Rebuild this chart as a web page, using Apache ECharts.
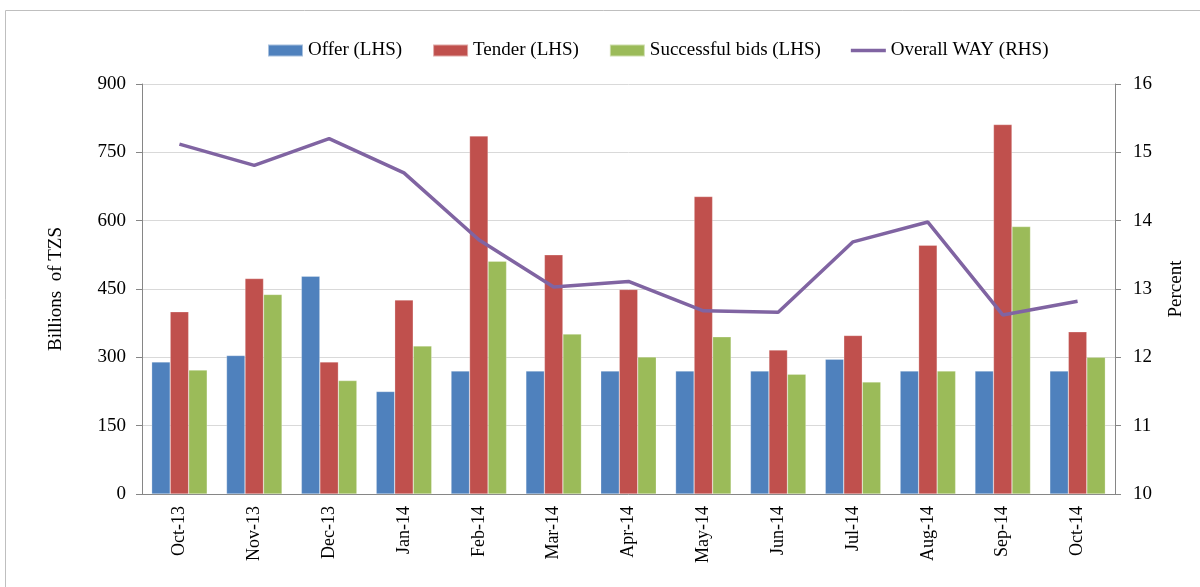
<!DOCTYPE html>
<html>
<head>
<meta charset="utf-8">
<script src="https://cdn.jsdelivr.net/npm/echarts@6/dist/echarts.min.js"></script>
<style>
  html, body { margin: 0; padding: 0; background: #fff; }
  #grafico { width: 1200px; height: 587px; }
</style>
</head>
<body>
<div id="grafico"></div>
<script>
// values
const meses = ["Oct-13", "Nov-13", "Dec-13", "Jan-14", "Feb-14", "Mar-14", "Apr-14", "May-14", "Jun-14", "Jul-14", "Aug-14", "Sep-14", "Oct-14"]
const offer = [290, 304, 478, 225, 270, 270, 270, 270, 270, 296, 270, 270, 270]
const tender = [400, 473, 290, 426, 786, 525, 449, 653, 316, 348, 546, 811, 356]
const successful = [272, 438, 249, 325, 511, 351, 301, 345, 263, 246, 270, 587, 300]
const way = [15.12, 14.81, 15.20, 14.70, 13.72, 13.03, 13.11, 12.68, 12.66, 13.69, 13.98, 12.62, 12.82]
const ticksEsq = [0, 150, 300, 450, 600, 750, 900]
const ticksDir = [10, 11, 12, 13, 14, 15, 16]

const fonte = "Liberation Serif"

let myChart = echarts.init(document.getElementById("grafico"))

let barra = (nome, dados, cor) => ({
  name: nome,
  type: "bar",
  data: dados,
  barWidth: 18.5,
  barGap: "0%",
  itemStyle: { color: cor, borderColor: "rgba(255,255,255,0.5)", borderWidth: 0.5 },
})

let option = {
  animation: false,
  textStyle: { fontFamily: fonte, color: "#000" },
  graphic: [
    {
      type: "rect",
      shape: { x: 5.5, y: 10.5, width: 1300, height: 700 },
      style: { fill: "none", stroke: "#bfbfbf", lineWidth: 1 },
      silent: true,
    },
  ],
  legend: {
    top: 36,
    left: 262,
    itemWidth: 35,
    itemHeight: 12,
    itemGap: 30,
    textStyle: { fontFamily: fonte, fontSize: 19, color: "#000" },
    data: [
      { name: "Offer (LHS)", icon: "rect" },
      { name: "Tender (LHS)", icon: "rect" },
      { name: "Successful bids (LHS)", icon: "rect" },
      { name: "Overall WAY (RHS)", icon: "path://M0,0 L40,0 L40,4 L0,4 Z", itemStyle: { color: "#8064A2" } },
    ],
  },
  grid: { left: 142, right: 85, top: 84, bottom: 93 },
  xAxis: {
    type: "category",
    data: meses,
    axisLine: { lineStyle: { color: "#868686" } },
    axisTick: { length: 6, lineStyle: { color: "#868686" } },
    axisLabel: {
      rotate: 90,
      interval: 0,
      margin: 12,
      fontFamily: fonte,
      fontSize: 18,
      color: "#000",
    },
  },
  yAxis: [
    {
      type: "value",
      min: ticksEsq[0],
      max: ticksEsq[ticksEsq.length - 1],
      interval: 150,
      name: "Billions  of TZS",
      nameLocation: "middle",
      nameRotate: 90,
      nameGap: 76,
      nameTextStyle: { fontFamily: fonte, fontSize: 19, color: "#000" },
      axisLine: { show: true, lineStyle: { color: "#868686" } },
      axisTick: { show: true, inside: false, length: 6, lineStyle: { color: "#868686" } },
      axisLabel: { fontFamily: fonte, fontSize: 19, color: "#000", margin: 16 },
      splitLine: { lineStyle: { color: "#d9d9d9" } },
    },
    {
      type: "value",
      min: ticksDir[0],
      max: ticksDir[ticksDir.length - 1],
      interval: 1,
      name: "Percent",
      nameLocation: "middle",
      nameRotate: 90,
      nameGap: 52,
      nameTextStyle: { fontFamily: fonte, fontSize: 19, color: "#000" },
      axisLine: { show: true, lineStyle: { color: "#868686" } },
      axisTick: { show: true, length: 6, lineStyle: { color: "#868686" } },
      axisLabel: { fontFamily: fonte, fontSize: 19, color: "#000", margin: 18 },
      splitLine: { show: false },
    },
  ],
  series: [
    barra("Offer (LHS)", offer, "#4F81BD"),
    barra("Tender (LHS)", tender, "#C0504D"),
    barra("Successful bids (LHS)", successful, "#9BBB59"),
    {
      name: "Overall WAY (RHS)",
      type: "line",
      yAxisIndex: 1,
      data: way,
      symbol: "none",
      lineStyle: { color: "#8064A2", width: 3.5 },
      itemStyle: { color: "#8064A2" },
    },
  ],
}

option && myChart.setOption(option)
</script>
</body>
</html>
